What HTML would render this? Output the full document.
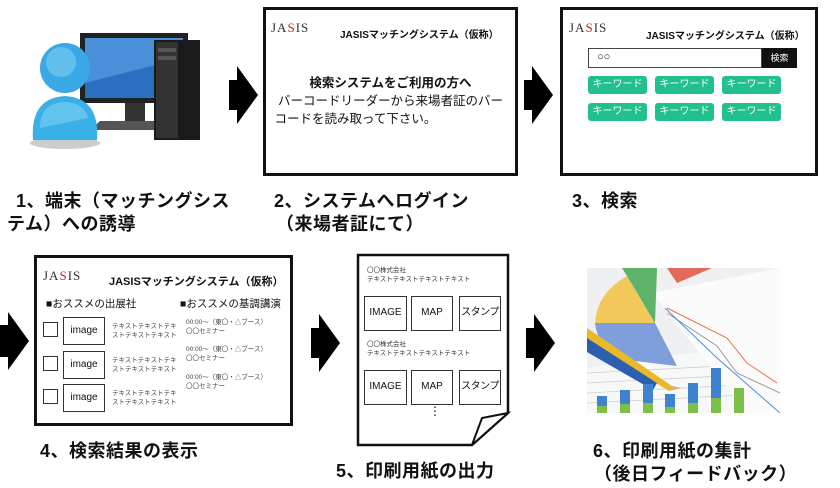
<!DOCTYPE html>
<html><head><meta charset="utf-8"><style>
body{margin:0;width:840px;height:488px;background:#fff;position:relative;overflow:hidden;font-family:"Liberation Sans","Noto Sans CJK JP",sans-serif;color:#111}
.a{position:absolute;white-space:nowrap}
.box{position:absolute;border:3px solid #111;background:#fff;box-sizing:border-box}
.lbl{position:absolute;font-weight:bold;font-size:18px;white-space:nowrap;letter-spacing:0.5px}
.kw{position:absolute;background:#22c08e;color:#fff;font-size:10px;text-align:center;line-height:18px;border-radius:3px;width:59px;height:18px}
.sq{position:absolute;border:1.5px solid #333;box-sizing:border-box;background:#fff;white-space:nowrap;overflow:hidden}
.sm{position:absolute;font-size:6.5px;line-height:9px;color:#444;white-space:nowrap}
.logo{position:absolute;font-family:"Liberation Serif",serif;font-size:13px;color:#333;letter-spacing:1px}
.logo b{color:#b03030;font-weight:normal}
</style></head><body>

<svg class="a" style="left:30px;top:28px" width="180" height="125" viewBox="0 0 180 125">
<rect x="50" y="5" width="108" height="70" fill="#222"/>
<rect x="55" y="10" width="98" height="60" fill="#2a6fc0"/>
<polygon points="55,10 153,10 153,30 55,55" fill="#4a90d8"/>
<rect x="95" y="75" width="20" height="18" fill="#333"/>
<polygon points="70,93 140,93 150,102 60,102" fill="#555"/>
<rect x="124" y="12" width="46" height="100" fill="#1a1a1a"/>
<rect x="126" y="14" width="22" height="96" fill="#333"/>
<rect x="128" y="20" width="18" height="4" fill="#555"/><rect x="128" y="28" width="18" height="4" fill="#555"/>
<ellipse cx="35" cy="115" rx="35" ry="6" fill="#ccc"/>
<path d="M3,112 Q0,70 35,68 Q70,70 67,112 Z" fill="#3ab0e8"/>
<path d="M10,100 Q10,75 35,74 Q55,75 58,90 Z" fill="#7fd0f3" opacity=".6"/>
<circle cx="35" cy="40" r="25" fill="#3aa8e6"/>
<circle cx="31" cy="34" r="15" fill="#7fcff3" opacity=".6"/>
</svg>

<svg class="a" style="left:0;top:0" width="840" height="488">
<polygon points="229,80 237,80 237,66 258,95 237,124 237,110 229,110" fill="#000"/>
<polygon points="524,80 532,80 532,66 553,95 532,124 532,110 524,110" fill="#000"/>
<polygon points="0,325 8,325 8,312 29,341 8,370 8,357 0,357" fill="#000"/>
<polygon points="311,328 319,328 319,314 340,343 319,372 319,358 311,358" fill="#000"/>
<polygon points="526,328 534,328 534,314 555,343 534,372 534,358 526,358" fill="#000"/>
</svg>

<div class="box" style="left:263px;top:7px;width:255px;height:169px">
<div class="logo" style="left:5px;top:10px">JA<b>S</b>IS</div>
<div class="a" style="left:74px;top:16px;font-size:10px;font-weight:bold">JASISマッチングシステム（仮称）</div>
<div class="a" style="left:0;width:249px;top:64px;font-size:12.5px;line-height:18px;text-align:center"><b>検索システムをご利用の方へ</b><br>バーコードリーダーから来場者証のバー<br><span style="display:inline-block;width:232px;text-align:left">コードを読み取って下さい。</span></div>
</div>

<div class="box" style="left:560px;top:7px;width:258px;height:169px">
<div class="logo" style="left:6px;top:10px">JA<b>S</b>IS</div>
<div class="a" style="left:83px;top:17px;font-size:10px;font-weight:bold">JASISマッチングシステム（仮称）</div>
<div class="a" style="left:25px;top:38px;width:174px;height:20px;border:1.5px solid #444;box-sizing:border-box;font-size:11px;line-height:17px;padding-left:8px">○○</div>
<div class="a" style="left:199px;top:38px;width:35px;height:20px;background:#111;color:#fff;font-size:9px;text-align:center;line-height:20px">検索</div>
<div class="kw" style="left:25px;top:66px">キーワード</div>
<div class="kw" style="left:92px;top:66px">キーワード</div>
<div class="kw" style="left:159px;top:66px">キーワード</div>
<div class="kw" style="left:25px;top:93px">キーワード</div>
<div class="kw" style="left:92px;top:93px">キーワード</div>
<div class="kw" style="left:159px;top:93px">キーワード</div>
</div>

<div class="lbl" style="left:16px;top:187px">1、端末（マッチングシス</div>
<div class="lbl" style="left:7px;top:210px">テム）への誘導</div>
<div class="lbl" style="left:274px;top:187px">2、システムへログイン</div>
<div class="lbl" style="left:276px;top:210px">（来場者証にて）</div>
<div class="lbl" style="left:572px;top:187px">3、検索</div>

<div class="box" style="left:34px;top:255px;width:259px;height:171px">
<div class="logo" style="left:6px;top:10px">JA<b>S</b>IS</div>
<div class="a" style="left:72px;top:15px;font-size:11px;font-weight:bold">JASISマッチングシステム（仮称）</div>
<div class="a" style="left:9px;top:38px;font-size:10.5px">■おススメの出展社</div>
<div class="a" style="left:143px;top:38px;font-size:10.5px">■おススメの基調講演</div>
<div class="sq" style="left:6px;top:64px;width:15px;height:15px"></div>
<div class="sq" style="left:6px;top:98px;width:15px;height:15px"></div>
<div class="sq" style="left:6px;top:131px;width:15px;height:15px"></div>
<div class="sq" style="left:26px;top:59px;width:42px;height:28px;font-size:10px;text-align:center;line-height:25px">image</div>
<div class="sq" style="left:26px;top:93px;width:42px;height:28px;font-size:10px;text-align:center;line-height:25px">image</div>
<div class="sq" style="left:26px;top:126px;width:42px;height:28px;font-size:10px;text-align:center;line-height:25px">image</div>
<div class="sm" style="left:75px;top:64px">テキストテキストテキ<br>ストテキストテキスト</div>
<div class="sm" style="left:75px;top:98px">テキストテキストテキ<br>ストテキストテキスト</div>
<div class="sm" style="left:75px;top:131px">テキストテキストテキ<br>ストテキストテキスト</div>
<div class="sm" style="left:149px;top:60px">00:00～（東〇・△ブース）<br>〇〇セミナー</div>
<div class="sm" style="left:149px;top:87px">00:00～（東〇・△ブース）<br>〇〇セミナー</div>
<div class="sm" style="left:149px;top:115px">00:00～（東〇・△ブース）<br>〇〇セミナー</div>
</div>
<div class="lbl" style="left:40px;top:437px">4、検索結果の表示</div>

<svg class="a" style="left:356px;top:253px" width="156" height="196">
<polygon points="2,2 152,2 152,160 116,192 2,192" fill="#fff" stroke="#111" stroke-width="2.5"/>
<polygon points="116,192 126,165 152,160" fill="#fff" stroke="#111" stroke-width="2"/>
</svg>
<div class="sm" style="left:367px;top:266px;color:#333">〇〇株式会社<br>テキストテキストテキストテキスト</div>
<div class="sm" style="left:367px;top:340px;color:#333">〇〇株式会社<br>テキストテキストテキストテキスト</div>
<div class="sq" style="left:364px;top:296px;width:43px;height:35px;font-size:10px;text-align:center;line-height:32px">IMAGE</div>
<div class="sq" style="left:411px;top:296px;width:42px;height:35px;font-size:10px;text-align:center;line-height:32px">MAP</div>
<div class="sq" style="left:459px;top:296px;width:42px;height:35px;font-size:10px;letter-spacing:-0.5px;text-align:center;line-height:32px">スタンプ</div>
<div class="sq" style="left:364px;top:370px;width:43px;height:35px;font-size:10px;text-align:center;line-height:32px">IMAGE</div>
<div class="sq" style="left:411px;top:370px;width:42px;height:35px;font-size:10px;text-align:center;line-height:32px">MAP</div>
<div class="sq" style="left:459px;top:370px;width:42px;height:35px;font-size:10px;letter-spacing:-0.5px;text-align:center;line-height:32px">スタンプ</div>
<div class="a" style="left:429px;top:404px;font-size:12px">⋮</div>
<div class="lbl" style="left:336px;top:457px">5、印刷用紙の出力</div>

<svg class="a" style="left:587px;top:268px" width="193" height="145" viewBox="0 0 193 145">
<rect width="193" height="145" fill="#eef0f2"/>
<polygon points="60,90 193,75 193,145 0,145 0,100" fill="#f7f8f8"/>
<g stroke="#ccc" stroke-width="0.7"><line x1="0" y1="105" x2="193" y2="95"/><line x1="0" y1="115" x2="193" y2="105"/><line x1="0" y1="125" x2="193" y2="115"/><line x1="0" y1="135" x2="193" y2="125"/></g>
<polygon points="65,25 193,0 193,145 160,145" fill="#fbfbfb"/>
<path d="M68,55 L8,55 Q10,25 40,8 Z" fill="#f2c85a"/>
<path d="M68,55 L40,8 L35,0 L70,0 Z" fill="#5db36a"/>
<polygon points="80,0 125,0 90,15" fill="#e56a5e"/>
<path d="M68,55 L8,55 Q12,85 40,92 L90,98 Z" fill="#7e9fdc"/>
<polyline points="80,40 140,70 160,95 190,115" fill="none" stroke="#ea7340" stroke-width="1"/>
<polyline points="80,45 130,78 150,105 193,125" fill="none" stroke="#999" stroke-width="1"/>
<polyline points="78,40 130,90 193,145" fill="none" stroke="#4a8fdc" stroke-width="1"/>
<polygon points="0,60 85,118 82,123 0,72" fill="#e9b92a"/>
<polygon points="0,70 70,115 66,122 0,84" fill="#2d5fb0"/>
<polygon points="85,118 95,120 82,123" fill="#d8b080"/>
<g fill="#3f83d0"><rect x="10" y="128" width="10" height="17"/><rect x="33" y="122" width="10" height="23"/><rect x="56" y="116" width="10" height="29"/><rect x="78" y="126" width="10" height="19"/><rect x="101" y="115" width="10" height="30"/><rect x="124" y="100" width="10" height="45"/></g>
<g fill="#7cc04a"><rect x="10" y="138" width="10" height="7"/><rect x="33" y="136" width="10" height="9"/><rect x="56" y="135" width="10" height="10"/><rect x="78" y="139" width="10" height="6"/><rect x="101" y="135" width="10" height="10"/><rect x="124" y="130" width="10" height="15"/><rect x="147" y="120" width="10" height="25"/></g>
</svg>
<div class="lbl" style="left:593px;top:437px">6、印刷用紙の集計</div>
<div class="lbl" style="left:594px;top:460px">（後日フィードバック）</div>
</body></html>
